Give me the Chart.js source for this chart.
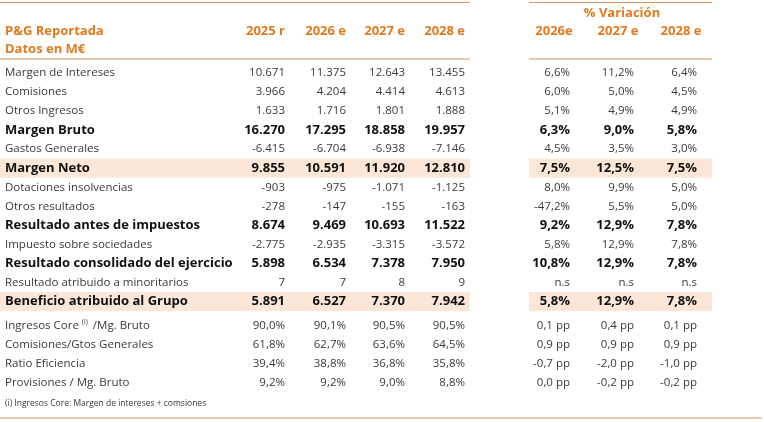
<!DOCTYPE html>
<html lang="es">
<head>
<meta charset="UTF-8">
<title>P&G Reportada</title>
<script src="https://cdn.jsdelivr.net/npm/chart.js"></script>
<style>
  html, body { margin: 0; padding: 0; background: #fff; }
  #wrap { width: 764px; height: 422px; position: relative; }
</style>
</head>
<body>
<div id="wrap"><canvas id="tabla"></canvas></div>
<script>
// column headers
const yearCols = ["2025 r", "2026 e", "2027 e", "2028 e"];
const varCols = ["2026e", "2027 e", "2028 e"];

// row labels
const rowLabels = [
  "Margen de Intereses", "Comisiones", "Otros Ingresos", "Margen Bruto", "Gastos Generales",
  "Margen Neto", "Dotaciones insolvencias", "Otros resultados", "Resultado antes de impuestos",
  "Impuesto sobre sociedades", "Resultado consolidado del ejercicio", "Resultado atribuido a minoritarios",
  "Beneficio atribuido al Grupo",
  "Ingresos Core", "Comisiones/Gtos Generales", "Ratio Eficiencia", "Provisiones / Mg. Bruto"
];
const boldRows = [3, 5, 8, 10, 12];
const shadedRows = [5, 12];

// values by year
const v2025 = ["10.671","3.966","1.633","16.270","-6.415","9.855","-903","-278","8.674","-2.775","5.898","7","5.891","90,0%","61,8%","39,4%","9,2%"];
const v2026 = ["11.375","4.204","1.716","17.295","-6.704","10.591","-975","-147","9.469","-2.935","6.534","7","6.527","90,1%","62,7%","38,8%","9,2%"];
const v2027 = ["12.643","4.414","1.801","18.858","-6.938","11.920","-1.071","-155","10.693","-3.315","7.378","8","7.370","90,5%","63,6%","36,8%","9,0%"];
const v2028 = ["13.455","4.613","1.888","19.957","-7.146","12.810","-1.125","-163","11.522","-3.572","7.950","9","7.942","90,5%","64,5%","35,8%","8,8%"];

// % variation
const var26 = ["6,6%","6,0%","5,1%","6,3%","4,5%","7,5%","8,0%","-47,2%","9,2%","5,8%","10,8%","n.s","5,8%","0,1 pp","0,9 pp","-0,7 pp","0,0 pp"];
const var27 = ["11,2%","5,0%","4,9%","9,0%","3,5%","12,5%","9,9%","5,5%","12,9%","12,9%","12,9%","n.s","12,9%","0,4 pp","0,9 pp","-2,0 pp","-0,2 pp"];
const var28 = ["6,4%","4,5%","4,9%","5,8%","3,0%","7,5%","5,0%","5,0%","7,8%","7,8%","7,8%","n.s","7,8%","0,1 pp","0,9 pp","-1,0 pp","-0,2 pp"];

const footnote = "(i) Ingresos Core: Margen de intereses + comsiones";

// layout (pixel units on the hidden scales)
const rowY = [];
for (let i = 0; i < 13; i++) rowY.push(73 + i * 19.05);
for (let i = 0; i < 4; i++) rowY.push(326 + i * 19);
const yearX = [285, 346, 405, 465];
const varX = [570, 634, 697];

const ORANGE = "#e07a1f";
const LINE = "#d9955a";
const SHADE = "#fbe6d8";
const TEXT = "#3a3a3a";
const FONT = "'Open Sans', sans-serif";
const BOLD = "bold 13px 'Liberation Sans Narrow', 'Open Sans', sans-serif";

const tablePlugin = {
  id: "tabla",
  afterDraw(chart) {
    const ctx = chart.ctx, X = chart.scales.x, Y = chart.scales.y;
    const px = v => X.getPixelForValue(v), py = v => Y.getPixelForValue(v);
    ctx.save();
    // shaded rows
    ctx.fillStyle = SHADE;
    shadedRows.forEach(r => {
      ctx.fillRect(px(0), py(rowY[r] - 9.5), px(470) - px(0), py(rowY[r] + 9.5) - py(rowY[r] - 9.5));
      ctx.fillRect(px(529), py(rowY[r] - 9.5), px(712) - px(529), py(rowY[r] + 9.5) - py(rowY[r] - 9.5));
    });
    // rules
    ctx.strokeStyle = LINE; ctx.lineWidth = 1.2;
    const hline = (a, b, y) => { ctx.beginPath(); ctx.moveTo(px(a), py(y)); ctx.lineTo(px(b), py(y)); ctx.stroke(); };
    hline(0, 470, 2.5); hline(529, 712, 2.5);
    hline(0, 470, 59); hline(529, 712, 59);
    hline(0, 762, 418);

    ctx.textBaseline = "middle";
    // headers
    ctx.fillStyle = ORANGE;
    ctx.font = BOLD;
    ctx.textAlign = "left";
    ctx.fillText("P&G Reportada", px(5), py(31));
    ctx.fillText("Datos en M€", px(5), py(49));
    ctx.textAlign = "right";
    yearCols.forEach((c, i) => ctx.fillText(c, px(yearX[i]), py(31)));
    ctx.textAlign = "center";
    ctx.fillText("% Variación", px(622), py(13));
    varCols.forEach((c, i) => ctx.fillText(c, px(varX[i] - 16), py(31)));

    // body
    const cols = [v2025, v2026, v2027, v2028];
    const vcols = [var26, var27, var28];
    rowLabels.forEach((lab, r) => {
      const bold = boldRows.includes(r);
      const f = bold ? BOLD : "11.5px " + FONT;
      ctx.fillStyle = bold ? "#111" : TEXT;
      ctx.font = f;
      ctx.textAlign = "left";
      ctx.fillText(lab, px(5), py(rowY[r]));
      if (r === 13) {
        const w = ctx.measureText(lab).width;
        ctx.font = "7px " + FONT;
        ctx.fillText("(i)", px(5) + w + 3, py(rowY[r] - 4));
        ctx.font = "11.5px " + FONT;
        ctx.fillText("/Mg. Bruto", px(5) + w + 14, py(rowY[r]));
      }
      ctx.font = f;
      ctx.textAlign = "right";
      cols.forEach((col, i) => ctx.fillText(col[r], px(yearX[i]), py(rowY[r])));
      vcols.forEach((col, i) => ctx.fillText(col[r], px(varX[i]), py(rowY[r])));
    });

    ctx.fillStyle = TEXT;
    ctx.font = "8.5px " + FONT;
    ctx.textAlign = "left";
    ctx.fillText(footnote, px(5), py(404));
    ctx.restore();
  }
};

new Chart(document.getElementById("tabla"), {
  type: "scatter",
  data: { datasets: [{ data: [], pointRadius: 0 }] },
  options: {
    responsive: true,
    maintainAspectRatio: false,
    animation: false,
    layout: { padding: 0 },
    plugins: { legend: { display: false }, tooltip: { enabled: false } },
    scales: {
      x: { type: "linear", min: 0, max: 764, display: false },
      y: { type: "linear", min: 0, max: 422, reverse: true, display: false }
    }
  },
  plugins: [tablePlugin]
});
</script>
</body>
</html>
